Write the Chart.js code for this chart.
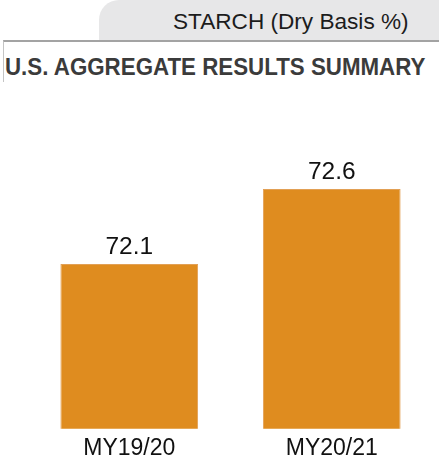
<!DOCTYPE html>
<html>
<head>
<meta charset="utf-8">
<script src="https://cdn.jsdelivr.net/npm/chart.js@4.4.0/dist/chart.umd.min.js"></script>
<style>
    html, body { margin: 0; padding: 0; background: #fff; }
    body { width: 439px; height: 458px; position: relative; overflow: hidden; font-family: "Liberation Sans", Arial, sans-serif; }
    #tab { position: absolute; left: 99px; top: 0; width: 340px; height: 40px; background: #e7e7e8; border-top-left-radius: 20px; }
    #tabText { position: absolute; left: 173px; top: 11px; font-size: 22.6px; line-height: 22px; color: #1c1c1c; white-space: nowrap; }
    #box { position: absolute; left: 3px; top: 40px; width: 436px; height: 42px; border-top: 2px solid #a3a3a3; border-left: 1px solid #c4c4c4; box-sizing: border-box; }
    #title { position: absolute; left: 5px; top: 55px; font-size: 24px; line-height: 24px; font-weight: bold; color: #3b3b3b; white-space: nowrap; transform: scaleX(0.93); transform-origin: left top; }
    #chart { position: absolute; left: 0; top: 0; }
</style>
</head>
<body>
<div id="tab"></div>
<div id="tabText">STARCH (Dry Basis %)</div>
<div id="box"></div>
<div id="title">U.S. AGGREGATE RESULTS SUMMARY</div>
<canvas id="chart" width="439" height="469"></canvas>
<script>
const categories = ['MY19/20', 'MY20/21'];
const starchValues = [72.1, 72.6];

// draws the value above each bar
const valueLabels = {
    id: 'valueLabels',
    afterDatasetsDraw(chart) {
        const ctx = chart.ctx;
        const meta = chart.getDatasetMeta(0);
        ctx.save();
        ctx.font = '24.5px "Liberation Sans", Arial, sans-serif';
        ctx.fillStyle = '#111111';
        ctx.textAlign = 'center';
        ctx.textBaseline = 'alphabetic';
        meta.data.forEach((bar, i) => {
            ctx.fillText(starchValues[i].toFixed(1), bar.x, bar.y - 10);
        });
        ctx.restore();
    }
};

new Chart(document.getElementById('chart'), {
    type: 'bar',
    data: {
        labels: categories,
        datasets: [{
            data: starchValues,
            backgroundColor: '#df8c1f',
            borderColor: '#e2a055',
            borderWidth: 1,
            barPercentage: 0.68,
            categoryPercentage: 1
        }]
    },
    options: {
        responsive: false,
        animation: false,
        layout: {
            padding: { left: 28, right: 6, top: 129, bottom: 0 }
        },
        scales: {
            x: {
                grid: { display: false, drawTicks: false },
                border: { display: false },
                ticks: {
                    padding: 8,
                    color: '#111111',
                    font: { family: '"Liberation Sans", Arial, sans-serif', size: 23, lineHeight: 1.05 }
                }
            },
            y: {
                display: false,
                min: 71,
                max: 73
            }
        },
        plugins: {
            legend: { display: false },
            tooltip: { enabled: false }
        }
    },
    plugins: [valueLabels]
});
</script>
</body>
</html>
